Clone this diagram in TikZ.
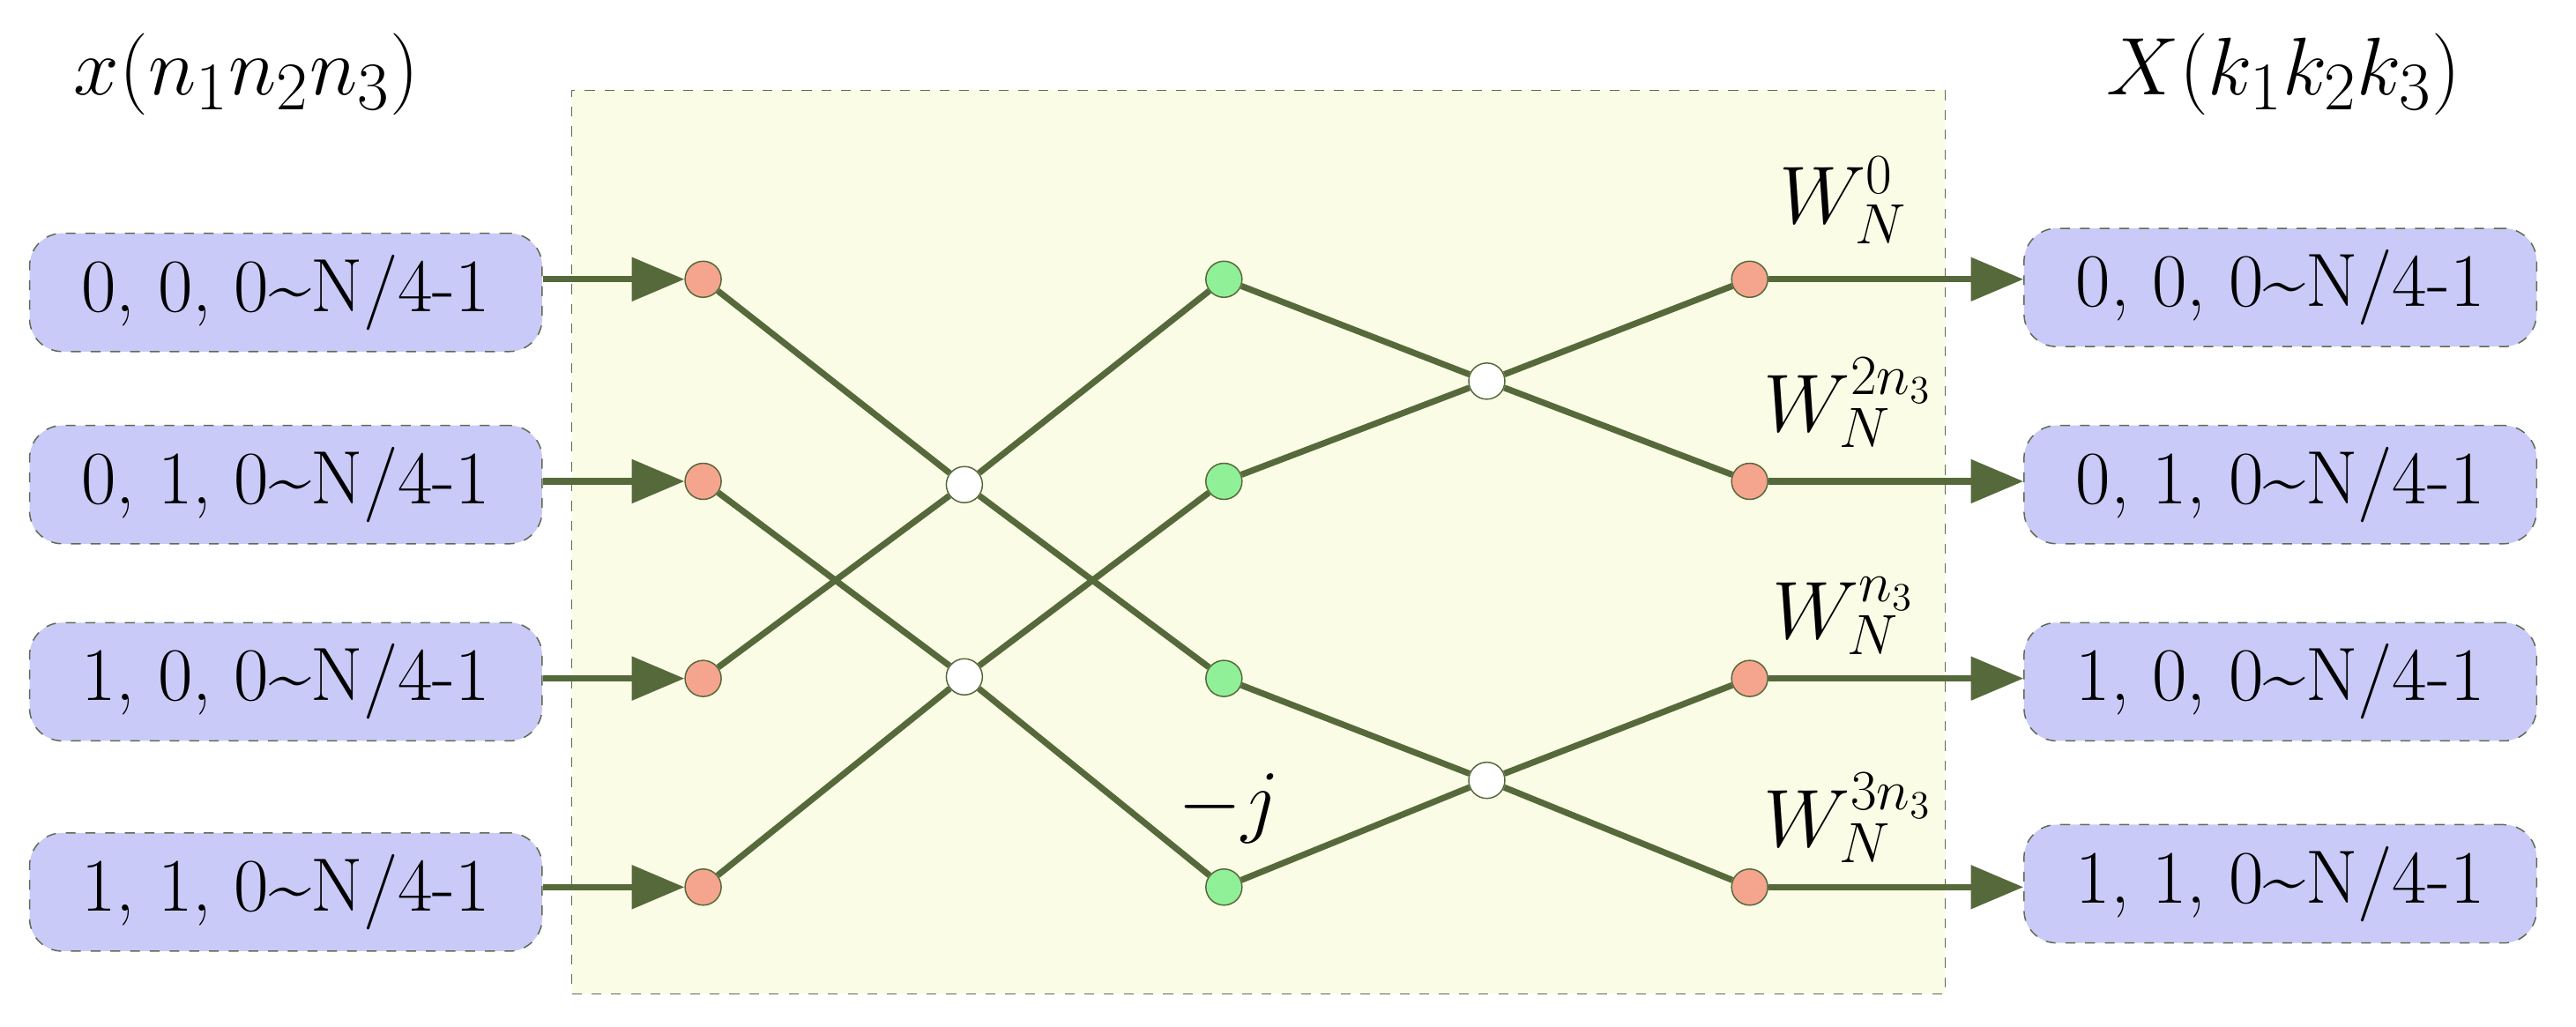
\documentclass[tikz,border=0pt]{standalone}
\usetikzlibrary{arrows.meta}
\begin{document}
\begin{tikzpicture}[x=0.5pt,y=-0.5pt]
\definecolor{ln}{HTML}{56693A}
\definecolor{bx}{HTML}{CACAF8}
\definecolor{bg}{HTML}{FAFCE6}
\definecolor{bd}{HTML}{5E6B52}
\definecolor{rd}{HTML}{F5A58E}
\definecolor{gd}{HTML}{90F098}
\tikzset{
  lbox/.style={draw=bd,dashed,fill=bx,rounded corners=10pt,minimum width=156pt,minimum height=36pt,font=\fontsize{23}{27}\selectfont},
  dot/.style={circle,draw=ln,inner sep=0pt,minimum size=11pt},
  rdot/.style={dot,fill=rd},
  gdot/.style={dot,fill=gd},
  wdot/.style={dot,fill=white},
  ln/.style={draw=ln,line width=1.9pt},
  ar/.style={ln,-{Triangle[length=16pt,width=13pt]}},
  lab/.style={font=\fontsize{25}{29}\selectfont}}
\useasboundingbox (0,0) rectangle (1568,625);
\node[draw=bd,dashed,fill=bg,minimum width=418pt,minimum height=275pt,inner sep=0pt] (bg) at (766,330) {};
\node[lab,font=\fontsize{28}{32}\selectfont] (tl) at (150,45) {$x(n_1n_2n_3)$};
\node[lab,font=\fontsize{28}{32}\selectfont] (tr) at (1390,45) {$X(k_1k_2k_3)$};
\foreach \i/\y/\t in {1/178/{0, 0, 0\textasciitilde N/4-1},2/295/{0, 1, 0\textasciitilde N/4-1},3/415/{1, 0, 0\textasciitilde N/4-1},4/543/{1, 1, 0\textasciitilde N/4-1}}{
  \node[lbox] (L\i) at (174,\y) {\t};
}
\foreach \i/\y/\t in {1/175/{0, 0, 0\textasciitilde N/4-1},2/295/{0, 1, 0\textasciitilde N/4-1},3/415/{1, 0, 0\textasciitilde N/4-1},4/538/{1, 1, 0\textasciitilde N/4-1}}{
  \node[lbox] (R\i) at (1388,\y) {\t};
}
\foreach \i/\y in {1/170,2/293,3/413,4/540}{
  \node[rdot] (a\i) at (428,\y) {};
  \node[gdot] (g\i) at (745,\y) {};
  \node[rdot] (b\i) at (1065,\y) {};
}
\node[wdot] (w1) at (587,295) {};
\node[wdot] (w2) at (587,412) {};
\node[wdot] (w3) at (905,232) {};
\node[wdot] (w4) at (905,475) {};
\foreach \i in {1,2,3,4}{
  \draw[ar] (L\i.east |- a\i) -- (a\i);
  \draw[ar] (b\i) -- (R\i.west |- b\i);
}
\draw[ln] (a1)--(w1)--(g3); \draw[ln] (a3)--(w1)--(g1);
\draw[ln] (a2)--(w2)--(g4); \draw[ln] (a4)--(w2)--(g2);
\draw[ln] (g1)--(w3)--(b2); \draw[ln] (g2)--(w3)--(b1);
\draw[ln] (g3)--(w4)--(b4); \draw[ln] (g4)--(w4)--(b3);
\node[lab] (W1) at (1122,122) {$W_N^{0}$};
\node[lab] (W2) at (1125,245) {$W_N^{2n_3}$};
\node[lab] (W3) at (1122,375) {$W_N^{n_3}$};
\node[lab] (W4) at (1125,498) {$W_N^{3n_3}$};
\node[lab] (mj) at (748,492) {$-j$};
\end{tikzpicture}
\end{document}
